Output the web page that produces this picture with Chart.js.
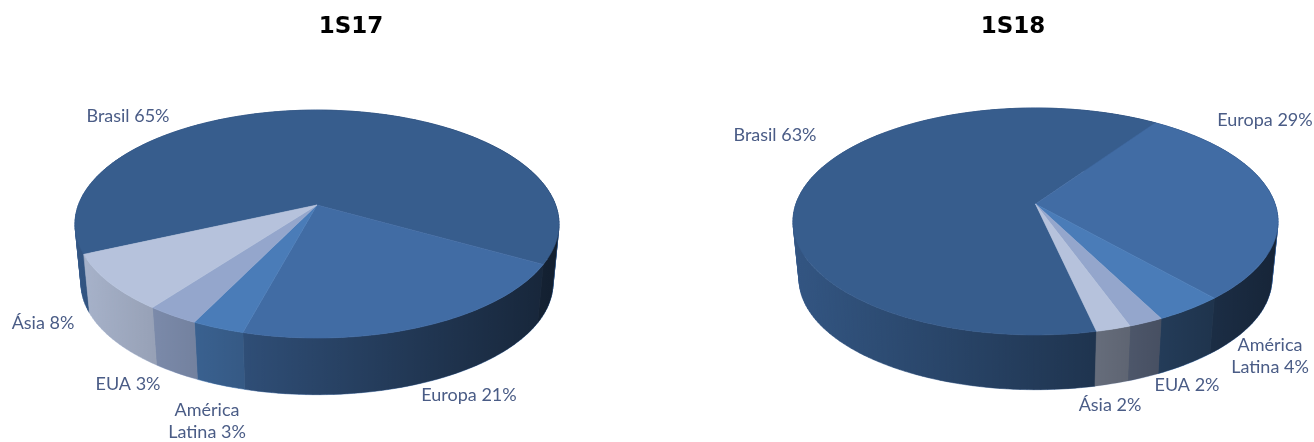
<!DOCTYPE html>
<html>
<head>
<meta charset="utf-8">
<title>1S17 / 1S18</title>
<script src="https://cdn.jsdelivr.net/npm/chart.js@4/dist/chart.umd.js"></script>
<style>
  html, body { margin: 0; padding: 0; background: #fff; overflow: hidden; }
  #wrap { position: relative; width: 1314px; height: 442px; }
  canvas { position: absolute; top: 0; }
  #left { left: 0; }
  #right { left: 657px; }
</style>
</head>
<body>
<div id="wrap">
  <canvas id="left" width="657" height="442"></canvas>
  <canvas id="right" width="657" height="442"></canvas>
</div>
<script>
const categories = ['Brasil', 'Europa', 'América Latina', 'EUA', 'Ásia'];
const values1S17 = [65, 21, 3, 3, 8];
const values1S18 = [63, 29, 4, 2, 2];
const sliceColors = ['#375d8d', '#416ca4', '#4a7cb8', '#94a6cc', '#b6c2dc'];

const labelColor = '#4a5c86';
const labelFont = '18px Lato';

// Label anchors per category, in canvas pixels
const labelPos1S17 = [[128, 116], [469, 395], [207, 421], [128, 384], [43, 323]];
const labelPos1S18 = [[118, 135], [608, 120], [613, 356], [530, 385], [453, 405]];

// Project a point of the unit circle onto the tilted disc
function project(arc, view, angle, lower) {
  const u = Math.cos(angle);
  const v = Math.sin(angle);
  const w = 1 + view.persp * v;
  let dx = arc.outerRadius * view.xScale * u / w;
  let dy = arc.outerRadius * view.yScale * v / w;
  if (lower) {
    dx *= view.shrink;
    dy = dy * view.shrink + view.depth;
  }
  return [arc.x + dx, arc.y + dy];
}

function edgePoints(arc, view, lower) {
  const pts = [];
  const steps = Math.max(6, Math.ceil((arc.endAngle - arc.startAngle) * 40));
  for (let i = 0; i <= steps; i++) {
    const a = arc.startAngle + (arc.endAngle - arc.startAngle) * i / steps;
    pts.push(project(arc, view, a, lower));
  }
  return pts;
}

function tracePath(ctx, pts) {
  ctx.beginPath();
  pts.forEach((p, i) => i ? ctx.lineTo(p[0], p[1]) : ctx.moveTo(p[0], p[1]));
  ctx.closePath();
}

// Small quads between both rims, so the silhouette stays straight at the sides
function addWallQuads(ctx, top, bottom) {
  for (let i = 0; i < top.length - 1; i++) {
    const a = top[i], b = top[i + 1], c = bottom[i + 1], d = bottom[i];
    const sign = (b[0] - a[0]) * (d[1] - a[1]) - (b[1] - a[1]) * (d[0] - a[0]);
    ctx.moveTo(a[0], a[1]);
    if (sign >= 0) {
      ctx.lineTo(b[0], b[1]);
      ctx.lineTo(c[0], c[1]);
      ctx.lineTo(d[0], d[1]);
    } else {
      ctx.lineTo(d[0], d[1]);
      ctx.lineTo(c[0], c[1]);
      ctx.lineTo(b[0], b[1]);
    }
    ctx.closePath();
  }
}

const pie3d = {
  id: 'pie3d',
  beforeDatasetsDraw(chart) {
    const ctx = chart.ctx;
    const view = chart.config.options.view;
    const arcs = chart.getDatasetMeta(0).data;
    const first = arcs[0];
    const left = first.x - first.outerRadius * view.xScale;
    const right = first.x + first.outerRadius * view.xScale;

    // side wall in slice colours
    arcs.forEach(arc => {
      ctx.beginPath();
      addWallQuads(ctx, edgePoints(arc, view, false), edgePoints(arc, view, true));
      ctx.fillStyle = arc.options.backgroundColor;
      ctx.strokeStyle = arc.options.backgroundColor;
      ctx.lineWidth = 0.6;
      ctx.fill();
      ctx.stroke();
    });

    // one shadow over the whole rim, darkening from left to right
    ctx.beginPath();
    arcs.forEach(arc => {
      addWallQuads(ctx, edgePoints(arc, view, false), edgePoints(arc, view, true));
    });
    const shade = ctx.createLinearGradient(left, 0, right, 0);
    shade.addColorStop(0, 'rgba(0,0,0,0.08)');
    shade.addColorStop(1, 'rgba(0,0,0,0.66)');
    ctx.fillStyle = shade;
    ctx.fill();

    // top faces
    arcs.forEach(arc => {
      const pts = [[arc.x, arc.y]].concat(edgePoints(arc, view, false));
      tracePath(ctx, pts);
      ctx.fillStyle = arc.options.backgroundColor;
      ctx.strokeStyle = arc.options.backgroundColor;
      ctx.lineWidth = 0.6;
      ctx.fill();
      ctx.stroke();
    });
    return false; // the flat arcs are not wanted
  },
  afterDraw(chart) {
    const ctx = chart.ctx;
    const view = chart.config.options.view;
    const data = chart.data.datasets[0].data;
    ctx.save();
    ctx.textAlign = 'center';
    ctx.textBaseline = 'middle';

    ctx.fillStyle = '#000';
    ctx.font = 'bold 23px "DejaVu Sans"';
    ctx.fillText(view.title, view.titleX, 27);

    ctx.fillStyle = labelColor;
    ctx.font = labelFont;
    chart.data.labels.forEach((name, i) => {
      const [x, y] = view.labelPos[i];
      const text = name + ' ' + data[i] + '%';
      if (name === 'América Latina') {
        // this one is always split over two lines
        const lines = ['América', text.replace('América ', '')];
        ctx.fillText(lines[0], x, y - 11);
        ctx.fillText(lines[1], x, y + 11);
      } else {
        ctx.fillText(text, x, y);
      }
    });
    ctx.restore();
  }
};

function makePie(id, values, rotation, padding, view) {
  return new Chart(document.getElementById(id), {
    type: 'pie',
    data: {
      labels: categories,
      datasets: [{ data: values, backgroundColor: sliceColors, borderWidth: 0 }]
    },
    options: {
      responsive: false,
      animation: false,
      rotation: rotation,
      layout: { padding: padding },
      plugins: { legend: { display: false }, tooltip: { enabled: false } },
      view: view
    },
    plugins: [pie3d]
  });
}

makePie('left', values1S17, 245.5, { left: 0, right: 23, top: 0, bottom: 32 }, {
  title: '1S17', titleX: 351, labelPos: labelPos1S17,
  xScale: 238.6 / 205, yScale: 110.8 / 205, persp: -0.167, shrink: 0.975, depth: 60
});

makePie('right', values1S18, 167.5, { left: 100, right: 0, top: 0, bottom: 34 }, {
  title: '1S18', titleX: 356, labelPos: labelPos1S18,
  xScale: 239.6 / 204, yScale: 110.8 / 204, persp: -0.154, shrink: 0.975, depth: 58
});
</script>
</body>
</html>
